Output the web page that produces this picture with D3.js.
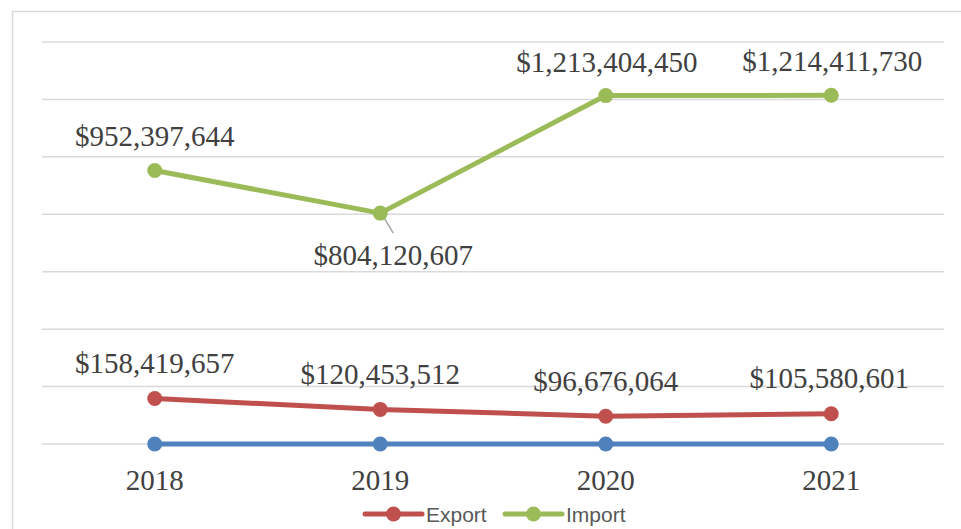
<!DOCTYPE html>
<html>
<head>
<meta charset="utf-8">
<script src="https://cdn.jsdelivr.net/npm/d3@7"></script>
<style>
  html, body { margin: 0; padding: 0; background: #fff; }
  svg { display: block; }
</style>
</head>
<body>
<script>
const w = 961;
const h = 529;

// data
const years = ["2018", "2019", "2020", "2021"];
const exportValues = [158419657, 120453512, 96676064, 105580601];
const importValues = [952397644, 804120607, 1213404450, 1214411730];
const zeroValues = [0, 0, 0, 0]; // third series, sits on the baseline
const yTicks = [0, 200e6, 400e6, 600e6, 800e6, 1000e6, 1200e6, 1400e6];

const series = [
    { name: "Zero", values: zeroValues, color: "#4f81bd", legend: false },
    { name: "Export", values: exportValues, color: "#c0504d", legend: true },
    { name: "Import", values: importValues, color: "#9bbb59", legend: true }
];

// label offsets (dx, dy relative to point)
const labelPos = {
    Export: [[0, -26], [0, -25], [0, -25], [-2, -26]],
    Import: [[0, -25], [13, 52], [1, -24], [1, -24]]
};

const svg = d3.select("body").append("svg")
    .attr("width", w)
    .attr("height", h);

// chart frame
svg.append("rect")
    .attr("x", 12.5)
    .attr("y", 11.5)
    .attr("width", 1000)
    .attr("height", 600)
    .attr("fill", "#fff")
    .attr("stroke", "#d9d9d9")
    .attr("stroke-width", 1.5);

const x = d3.scaleBand()
    .domain(years)
    .range([42, 944]);

const y = d3.scaleLinear()
    .domain([0, 1400e6])
    .range([444, 42]);

// gridlines
svg.append("g")
    .selectAll("line")
    .data(yTicks)
    .join("line")
    .attr("x1", 42)
    .attr("x2", 944)
    .attr("y1", d => y(d))
    .attr("y2", d => y(d))
    .attr("stroke", "#d9d9d9")
    .attr("stroke-width", 1.5);

// x axis labels
const xAxis = d3.axisBottom(x).tickSize(0).tickPadding(0);
const gx = svg.append("g")
    .attr("transform", `translate(0,${y(0)})`)
    .call(xAxis);
gx.select(".domain").remove();
gx.selectAll("text")
    .attr("dy", null)
    .attr("y", 46)
    .attr("fill", "#404040")
    .style("font-family", "'Liberation Serif', serif")
    .style("font-size", "29px");

const cx = d => x(d) + x.bandwidth() / 2;

const line = d3.line()
    .x((d, i) => cx(years[i]))
    .y(d => y(d));

// leader line for the 2019 import label
svg.append("line")
    .attr("x1", cx(years[1]) + 1)
    .attr("y1", y(importValues[1]))
    .attr("x2", cx(years[1]) + 13)
    .attr("y2", y(importValues[1]) + 20)
    .attr("stroke", "#a6a6a6")
    .attr("stroke-width", 1.5);

series.forEach(s => {
    const g = svg.append("g");
    g.append("path")
        .datum(s.values)
        .attr("d", line)
        .attr("fill", "none")
        .attr("stroke", s.color)
        .attr("stroke-width", 5)
        .attr("stroke-linejoin", "round");
    g.selectAll("circle")
        .data(s.values)
        .join("circle")
        .attr("cx", (d, i) => cx(years[i]))
        .attr("cy", d => y(d))
        .attr("r", 7.5)
        .attr("fill", s.color);

    if (labelPos[s.name]) {
        g.selectAll("text")
            .data(s.values)
            .join("text")
            .attr("x", (d, i) => cx(years[i]) + labelPos[s.name][i][0])
            .attr("y", (d, i) => y(d) + labelPos[s.name][i][1])
            .attr("text-anchor", "middle")
            .attr("fill", "#404040")
            .style("font-family", "'Liberation Serif', serif")
            .style("font-size", "29px")
            .text(d => "$" + d3.format(",")(d));
    }
});

// legend
const legendItems = series.filter(s => s.legend);
const legendX = [365, 505];
const legend = svg.append("g")
    .selectAll("g")
    .data(legendItems)
    .join("g")
    .attr("transform", (d, i) => `translate(${legendX[i]},514)`);

legend.append("line")
    .attr("x1", 0)
    .attr("x2", 57)
    .attr("stroke", d => d.color)
    .attr("stroke-width", 5)
    .attr("stroke-linecap", "round");
legend.append("circle")
    .attr("cx", 28.5)
    .attr("r", 7.5)
    .attr("fill", d => d.color);
legend.append("text")
    .attr("x", 61)
    .attr("y", 8)
    .attr("fill", "#595959")
    .style("font-family", "'Liberation Sans', sans-serif")
    .style("font-size", "21px")
    .text(d => d.name);
</script>
</body>
</html>
